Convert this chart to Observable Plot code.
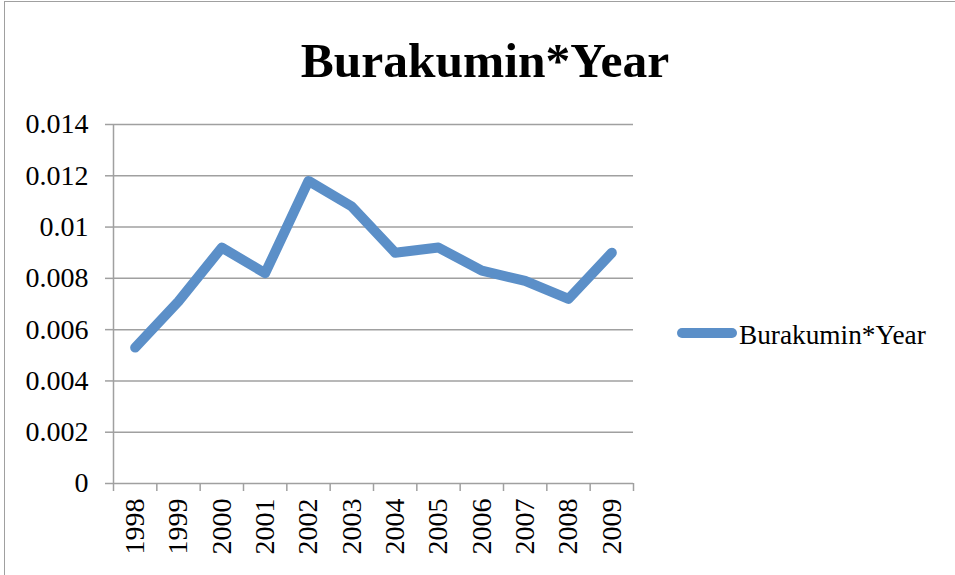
<!DOCTYPE html>
<html>
<head>
<meta charset="utf-8">
<script src="https://cdn.jsdelivr.net/npm/d3@7"></script>
<script src="https://cdn.jsdelivr.net/npm/@observablehq/plot@0.6"></script>
<style>
  html, body { margin: 0; padding: 0; background: #fff; overflow: hidden; }
  #wrap { position: relative; width: 955px; height: 575px; overflow: hidden; background: #fff; }
  #frame { position: absolute; left: 4px; top: 1px; width: 980px; height: 620px; border: 1.5px solid #a0a0a0; z-index: 5; pointer-events: none; }
  #title { position: absolute; left: 185px; width: 600px; top: 35.5px; text-align: center;
           font: bold 49.5px "Liberation Serif", serif; line-height: 49.5px; color: #000; }
  #legend-swatch { position: absolute; left: 677px; top: 328px; width: 60px; height: 10px; border-radius: 5px; }
  #legend-text { position: absolute; left: 739px; top: 322px; font: 27.3px "Liberation Serif", serif; line-height: 27.3px; color: #000; white-space: nowrap; }
  #chart { position: absolute; left: 0; top: 0; }
</style>
</head>
<body>
<div id="wrap">
  <div id="chart"></div>
  <div id="title"></div>
  <div id="legend-swatch"></div>
  <div id="legend-text"></div>
  <div id="frame"></div>
</div>
<script>
const seriesName = "Burakumin*Year";
const chartTitle = "Burakumin*Year";
const years = [1998, 1999, 2000, 2001, 2002, 2003, 2004, 2005, 2006, 2007, 2008, 2009];
const values = [0.0053, 0.0071, 0.0092, 0.0082, 0.0118, 0.0108, 0.0090, 0.0092, 0.0083, 0.0079, 0.0072, 0.0090];
const yTicks = [0, 0.002, 0.004, 0.006, 0.008, 0.01, 0.012, 0.014];
const yTickLabels = ["0", "0.002", "0.004", "0.006", "0.008", "0.01", "0.012", "0.014"];
const lineColor = "#5b8fc8";
const gridColor = "#a0a0a0";

const data = years.map((year, i) => ({year, value: values[i]}));
const boundaries = years.map(y => y - 0.5).concat([years[years.length - 1] + 0.5]);

const chart = Plot.plot({
  width: 955,
  height: 575,
  marginLeft: 113,
  marginRight: 322,
  marginTop: 124,
  marginBottom: 92,
  style: {fontFamily: "'Liberation Serif', serif", fontSize: "28px", color: "#000", background: "transparent", overflow: "visible"},
  x: {domain: [boundaries[0], boundaries[boundaries.length - 1]]},
  y: {domain: [0, 0.014]},
  marks: [
    Plot.ruleY(yTicks, {stroke: gridColor, strokeWidth: 1.5}),
    Plot.ruleX([boundaries[0]], {stroke: gridColor, strokeWidth: 1.5}),
    Plot.axisY({
      ticks: yTicks, tickSize: 8, tickPadding: 17,
      tickFormat: d => yTickLabels[yTicks.indexOf(d)],
      stroke: gridColor, strokeWidth: 1.5, strokeOpacity: 1, fill: "#000", label: null
    }),
    Plot.axisX({
      ticks: boundaries, tickSize: 8, tickFormat: () => "",
      stroke: gridColor, strokeWidth: 1.5, strokeOpacity: 1, label: null
    }),
    Plot.axisX({
      ticks: years, tickSize: 0, tickPadding: 15, tickRotate: -90,
      tickFormat: d => String(d), fill: "#000", label: null
    }),
    Plot.line(data, {x: "year", y: "value", stroke: lineColor, strokeWidth: 10, strokeLinejoin: "round", strokeLinecap: "round"})
  ]
});
document.getElementById("chart").appendChild(chart);
document.getElementById("title").textContent = chartTitle;
document.getElementById("legend-text").textContent = seriesName;
document.getElementById("legend-swatch").style.background = lineColor;
</script>
</body>
</html>
